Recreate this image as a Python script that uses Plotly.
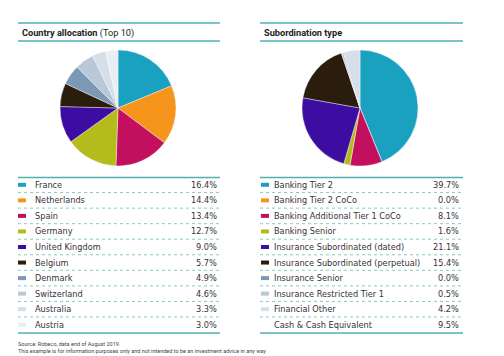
import plotly.graph_objects as go

# ---- data ----
countries = ["France", "Netherlands", "Spain", "Germany", "United Kingdom",
             "Belgium", "Denmark", "Switzerland", "Australia", "Austria"]
country_pct = [16.4, 14.4, 13.4, 12.7, 9.0, 5.7, 4.9, 4.6, 3.3, 3.0]

sub_types = ["Banking Tier 2", "Banking Tier 2 CoCo", "Banking Additional Tier 1 CoCo",
             "Banking Senior", "Insurance Subordinated (dated)",
             "Insurance Subordinated (perpetual)", "Insurance Senior",
             "Insurance Restricted Tier 1", "Financial Other", "Cash & Cash Equivalent"]
sub_pct = [39.7, 0.0, 8.1, 1.6, 21.1, 15.4, 0.0, 0.5, 4.2, 9.5]
sub_in_pie = [True, True, True, True, True, True, True, True, True, False]

palette = ["#1ba1c0", "#f5951c", "#c3105e", "#b4bc1c", "#3d0ca0",
           "#2b1d0c", "#7d98b4", "#b9c8d8", "#d5dee9", "#e9eef4"]
sub_colors = ["#1ba1c0", "#f5951c", "#c3105e", "#b4bc1c", "#3d0ca0",
              "#2b1d0c", "#7d98b4", "#b9c8d8", "#d5dee9", None]

W, H = 504, 356
FONT = "DejaVu Sans Condensed, Roboto, sans-serif"
TFONT = "Roboto, sans-serif"
TEAL = "#4fb0b0"
DOT = "#8cc8c8"
TXT = "#333333"


def px(x):
    return x / W


def py(y):
    return 1 - y / H


fig = go.Figure()

fig.add_trace(go.Pie(
    labels=countries, values=country_pct, sort=False, direction="clockwise",
    rotation=0, textinfo="none", hoverinfo="label+value", showlegend=False,
    marker=dict(colors=palette, line=dict(color="white", width=0.4)),
    domain=dict(x=[px(60), px(176)], y=[py(166), py(50)]),
))

pie_labels = [l for l, k in zip(sub_types, sub_in_pie) if k]
pie_vals = [v for v, k in zip(sub_pct, sub_in_pie) if k]
pie_cols = [c for c, k in zip(sub_colors, sub_in_pie) if k]
fig.add_trace(go.Pie(
    labels=pie_labels, values=pie_vals, sort=False, direction="clockwise",
    rotation=0, textinfo="none", hoverinfo="label+value", showlegend=False,
    marker=dict(colors=pie_cols, line=dict(color="white", width=0.4)),
    domain=dict(x=[px(302), px(418)], y=[py(166), py(50)]),
))

shapes = []
annotations = []

panels = [
    dict(x0=18, x1=220, sq=18, tx=33, vx=219, fs=9.1, title="<b>Country allocation</b> (Top 10)",
         names=countries, vals=country_pct, cols=palette),
    dict(x0=260, x1=463, sq=261, tx=272, vx=461, fs=9.1, title="<b>Subordination type</b>",
         names=sub_types, vals=sub_pct, cols=sub_colors),
]

ROW0, STEP = 184.8, 15.55
for p in panels:
    for yy in (23, 41, 177.5, 333):
        shapes.append(dict(type="line", xref="paper", yref="paper",
                           x0=px(p["x0"]), x1=px(p["x1"]), y0=py(yy), y1=py(yy),
                           line=dict(color=TEAL, width=1.3)))
    annotations.append(dict(xref="paper", yref="paper", x=px(p["x0"] + 2), y=py(32.5),
                            xanchor="left", yanchor="middle", showarrow=False,
                            text=p["title"], font=dict(family=TFONT, size=9.2, color="#222")))
    for i, (name, val, col) in enumerate(zip(p["names"], p["vals"], p["cols"])):
        yc = ROW0 + i * STEP
        if i < len(p["names"]) - 1:
            yl = yc + STEP / 2
            shapes.append(dict(type="line", xref="paper", yref="paper",
                               x0=px(p["x0"]), x1=px(p["x1"]), y0=py(yl), y1=py(yl),
                               line=dict(color=DOT, width=1, dash="dot")))
        if col:
            shapes.append(dict(type="rect", xref="paper", yref="paper",
                               x0=px(p["sq"]), x1=px(p["sq"] + 8),
                               y0=py(yc + 2), y1=py(yc - 2),
                               fillcolor=col, line=dict(width=0)))
        annotations.append(dict(xref="paper", yref="paper", x=px(p["tx"]), y=py(yc),
                                xanchor="left", yanchor="middle", showarrow=False,
                                text=name, font=dict(family=FONT, size=p["fs"], color=TXT)))
        annotations.append(dict(xref="paper", yref="paper", x=px(p["vx"]), y=py(yc),
                                xanchor="right", yanchor="middle", showarrow=False,
                                text=f"{val:.1f}%", font=dict(family=FONT, size=p["fs"], color=TXT)))

annotations.append(dict(xref="paper", yref="paper", x=px(16), y=py(339),
                        xanchor="left", yanchor="top", showarrow=False, align="left",
                        text="Source: Robeco, data end of August 2019.<br>"
                             "This example is for information purposes only and not intended to be an investment advice in any way",
                        font=dict(family=TFONT, size=5.5, color="#444")))

fig.update_layout(
    width=W, height=H, margin=dict(l=0, r=0, t=0, b=0),
    paper_bgcolor="white", plot_bgcolor="white",
    shapes=shapes, annotations=annotations, showlegend=False,
)

fig.write_html("out.html", config={"displayModeBar": False},
               post_script="document.body.style.margin='0';")
